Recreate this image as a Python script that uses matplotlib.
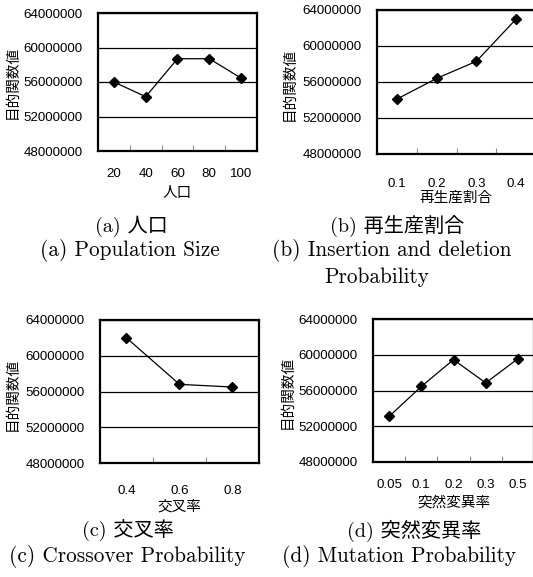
import matplotlib
matplotlib.use("Agg")
import matplotlib.pyplot as plt
import numpy as np

W, H = 533, 577

# ---- data ----
pop_labels = ["20", "40", "60", "80", "100"]
pop_values = [56.0e6, 54.3e6, 58.7e6, 58.7e6, 56.45e6]

ins_labels = ["0.1", "0.2", "0.3", "0.4"]
ins_values = [54.1e6, 56.4e6, 58.3e6, 63.0e6]

cx_labels = ["0.4", "0.6", "0.8"]
cx_values = [62.0e6, 56.8e6, 56.5e6]

mut_labels = ["0.05", "0.1", "0.2", "0.3", "0.5"]
mut_values = [53.1e6, 56.45e6, 59.45e6, 56.85e6, 59.55e6]

y_ticks = [48000000, 52000000, 56000000, 60000000, 64000000]
y_label = "目的関数値"

fig = plt.figure(figsize=(W / 100, H / 100), dpi=100)

sans = ["Liberation Sans", "Noto Sans CJK JP"]
cjk = ["Noto Sans CJK JP", "Liberation Sans"]
serif = ["cmr10", "Noto Sans CJK JP"]


def px_axes(left, top, right, bottom):
    return fig.add_axes([left / W, 1 - bottom / H, (right - left) / W, (bottom - top) / H])


def panel(box, labels, values, xlabel, tick_pad, xlab_y, ylab_x, ylab_y):
    left, top, right, bottom = box
    ax = px_axes(left, top, right, bottom)
    n = len(labels)
    x = np.arange(n)
    ax.plot(x, values, color="black", lw=0.9, marker="D", markersize=5,
            markerfacecolor="black", markeredgecolor="black", zorder=3)
    ax.set_xlim(-0.5, n - 0.5)
    ax.set_ylim(y_ticks[0], y_ticks[-1])
    ax.set_yticks(y_ticks)
    ax.set_yticklabels([str(v) for v in y_ticks], fontfamily=sans, fontsize=9.6)
    ax.tick_params(axis="y", length=0, pad=11)
    ax.set_xticks(x)
    ax.set_xticklabels(labels, fontfamily=sans, fontsize=9.6)
    ax.tick_params(axis="x", which="major", length=0, pad=tick_pad)
    ax.set_xticks(np.arange(n - 1) + 0.5, minor=True)
    ax.tick_params(axis="x", which="minor", direction="in", length=4,
                   color="#888888", width=0.8)
    ax.grid(axis="y", color="black", lw=0.9)
    ax.set_axisbelow(True)
    for s in ax.spines.values():
        s.set_linewidth(1.6)
        s.set_color("black")
    cx = (left + right) / 2
    fig.text(cx / W, 1 - xlab_y / H, xlabel, family=cjk, fontsize=10.5,
             ha="center", va="center")
    fig.text(ylab_x / W, 1 - ylab_y / H, y_label, family=cjk, fontsize=10.5,
             rotation=90, ha="center", va="center")
    return ax


panel((98, 13, 257, 151), pop_labels, pop_values, "人口", 12, 193, 13, 82)
panel((377, 10, 536, 154), ins_labels, ins_values, "再生産割合", 17, 198, 290, 84)
panel((100, 320, 259, 463), cx_labels, cx_values, "交叉率", 16, 507, 13, 394)
panel((373, 319, 534, 462), mut_labels, mut_values, "突然変異率", 12, 503, 288, 392)

caps_cjk = [
    (131, 226, "(a) 人口"),
    (397, 226, "(b) 再生産割合"),
    (128, 531, "(c) 交叉率"),
    (414, 531, "(d) 突然変異率"),
]
caps_en = [
    (129.5, 251, "(a) Population Size"),
    (392, 251, "(b) Insertion and deletion"),
    (377, 277, "Probability"),
    (127.5, 556, "(c) Crossover Probability"),
    (398.5, 556, "(d) Mutation Probability"),
]
for cx, cy, t in caps_cjk:
    fig.text(cx / W, 1 - cy / H, t, family=serif, fontsize=14.5,
             ha="center", va="center")
for cx, cy, t in caps_en:
    fig.text(cx / W, 1 - cy / H, t, family=serif, fontsize=15.3,
             ha="center", va="center")

fig.savefig("out.png", dpi=100)
